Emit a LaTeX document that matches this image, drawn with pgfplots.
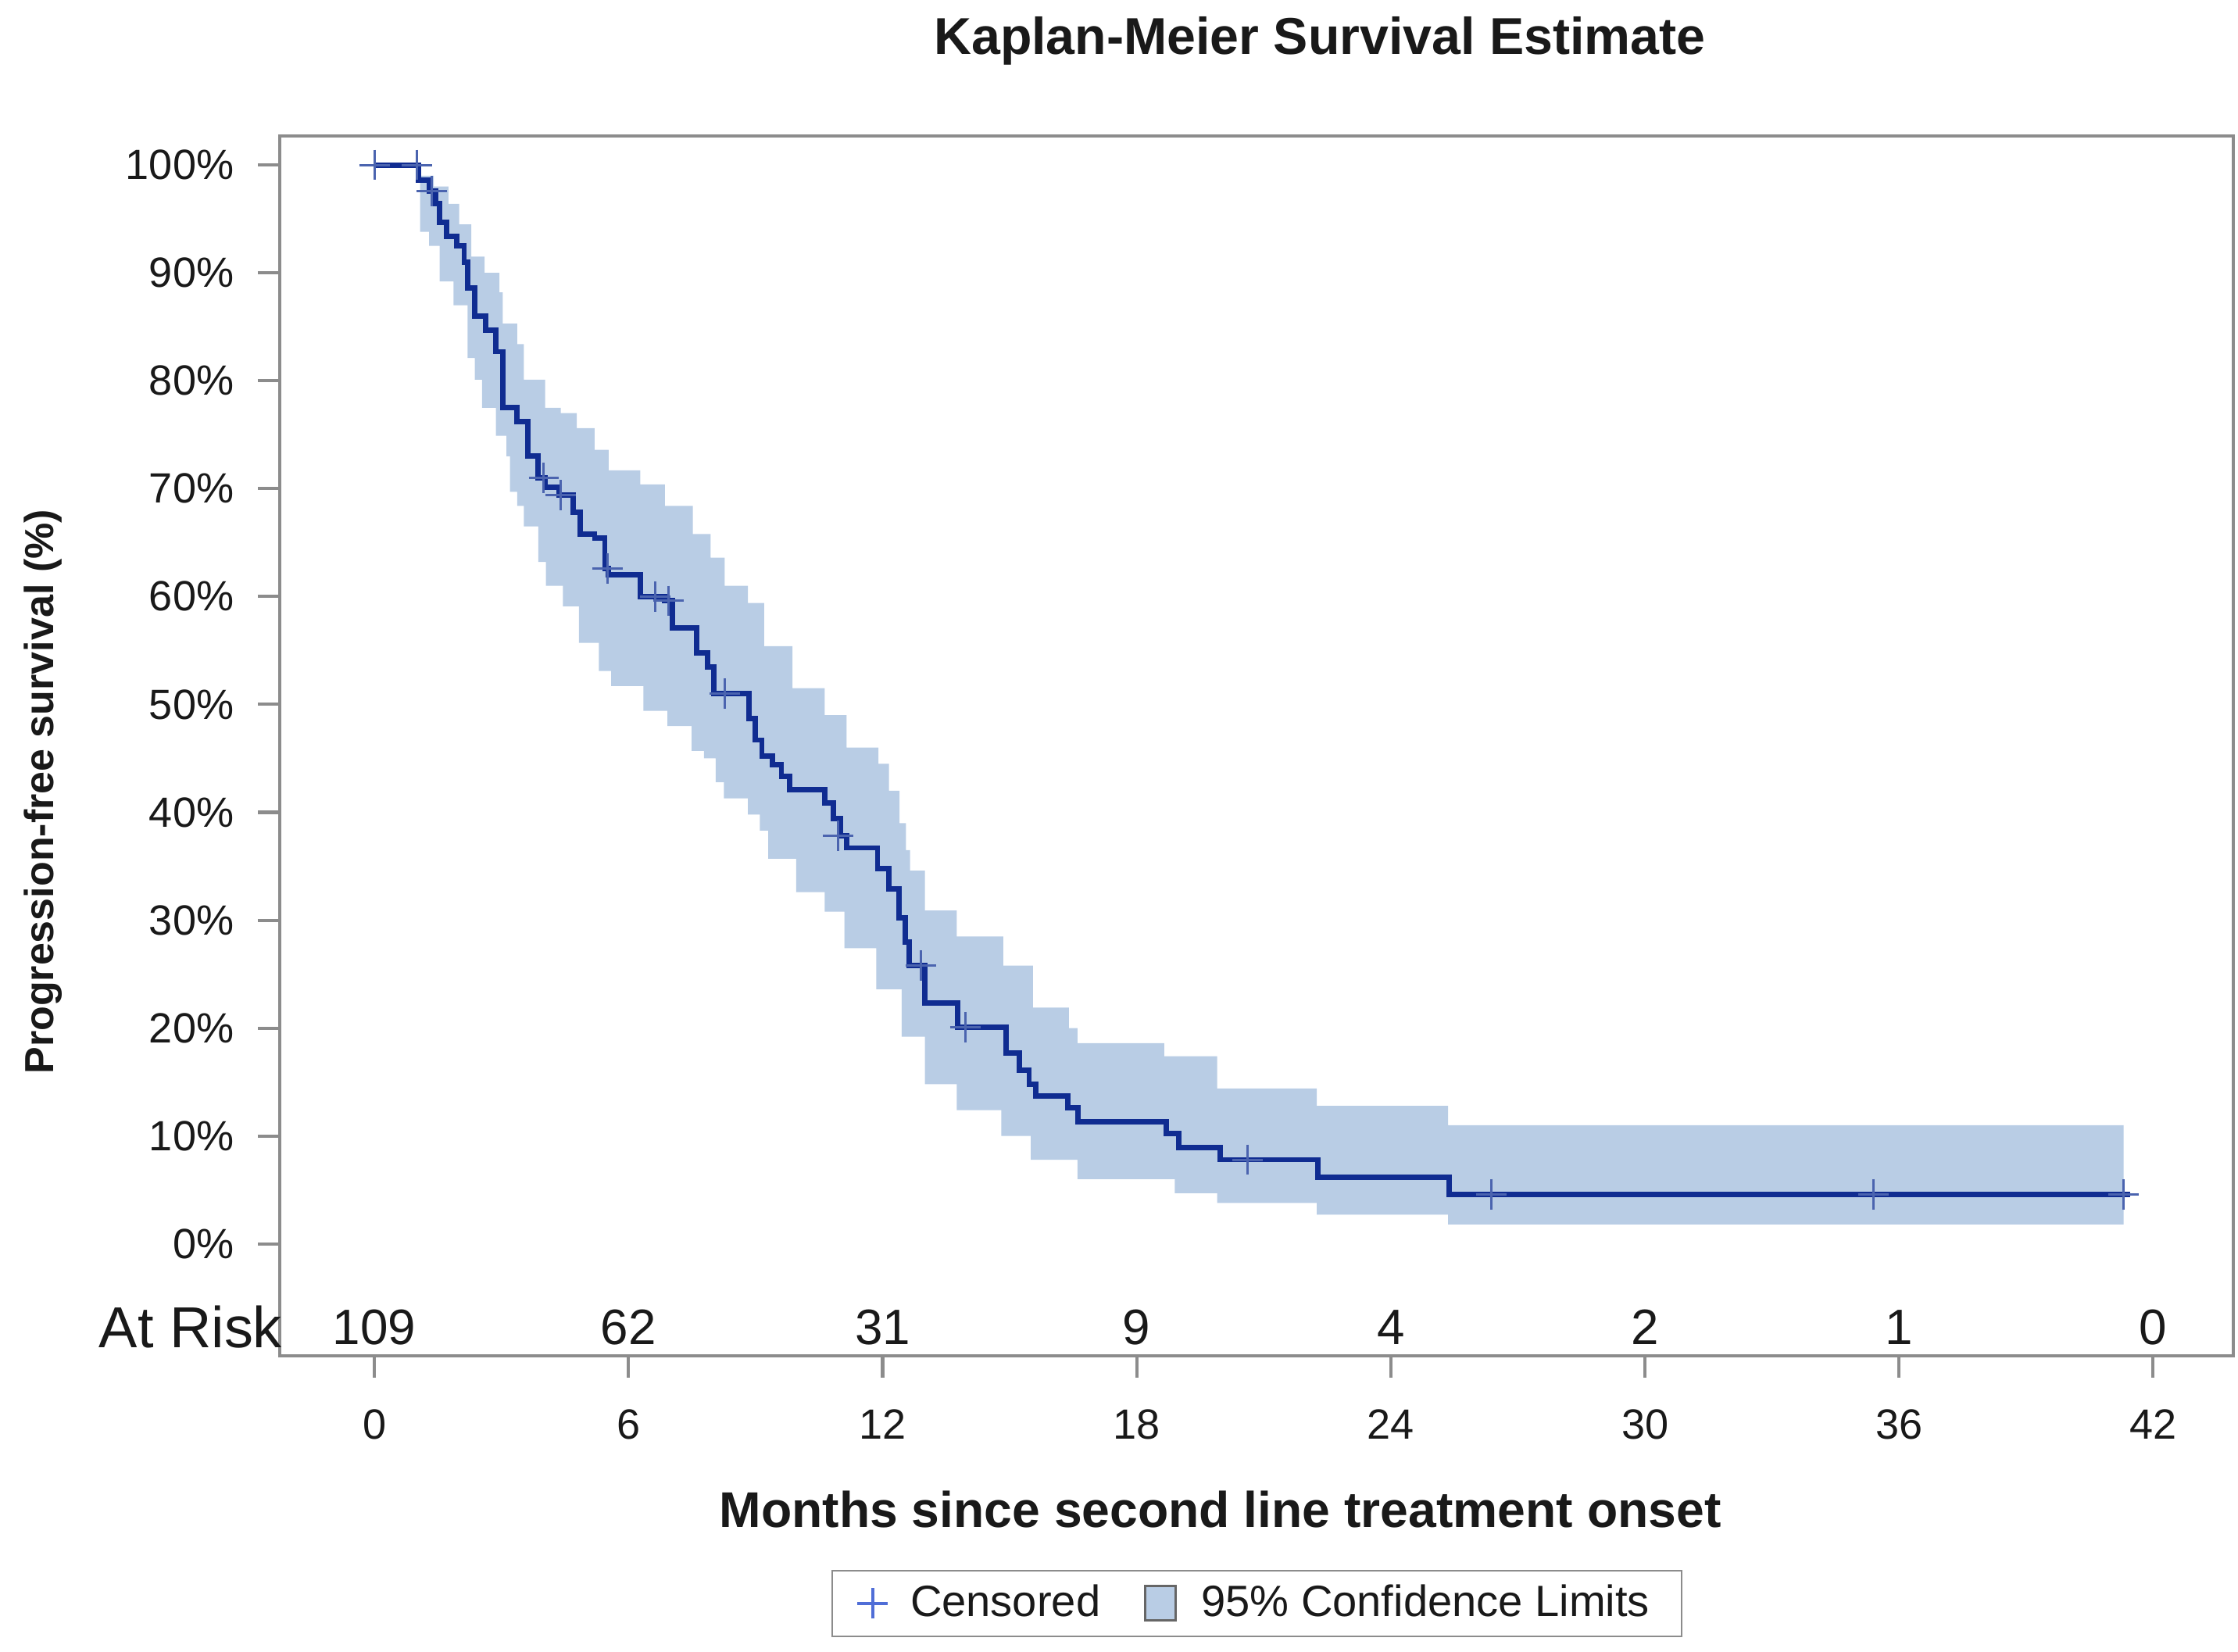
\documentclass[border=0pt]{standalone}
\usepackage{pgfplots}
\pgfplotsset{compat=1.18}
\usepgfplotslibrary{fillbetween}
\usepackage{fontspec}
\setmainfont{Liberation Sans}
\definecolor{kmline}{RGB}{16,44,145}
\definecolor{band}{RGB}{185,205,229}
\definecolor{censor}{RGB}{75,100,175}
\definecolor{legcensor}{RGB}{80,110,215}
\definecolor{frame}{RGB}{140,140,140}
\definecolor{txt}{RGB}{25,25,25}

\pgfplotstableread{
t S
0 100
1.04 98.6
1.29 97.6
1.45 96.4
1.54 94.7
1.70 93.4
1.95 92.5
2.12 91.0
2.20 88.6
2.37 86.0
2.62 84.7
2.87 82.7
3.03 77.5
3.37 76.2
3.62 73.0
3.87 71.0
4.03 70.1
4.36 69.4
4.70 67.8
4.86 65.8
5.20 65.4
5.44 62.6
5.53 62.0
6.28 60.0
6.86 59.6
7.03 57.1
7.61 54.8
7.86 53.5
8.02 51.0
8.84 48.7
8.99 46.7
9.15 45.2
9.40 44.4
9.61 43.3
9.81 42.1
10.64 40.9
10.84 39.4
11.00 37.8
11.15 36.7
11.88 34.8
12.15 32.9
12.38 30.2
12.54 28.0
12.62 25.8
13.00 22.3
13.77 20.1
14.92 17.7
15.23 16.1
15.46 14.8
15.62 13.7
16.38 12.6
16.62 11.3
18.69 10.2
19.00 8.9
19.97 7.8
22.28 6.2
25.38 4.6
41.45 4.6
}\kmcurve

\pgfplotstableread{
t S
0 100
1.0 100
1.35 97.6
4.00 71.0
4.40 69.4
5.50 62.6
6.63 60.0
6.95 59.6
8.27 51.0
10.95 37.8
12.90 25.8
13.95 20.1
20.62 7.8
26.38 4.6
35.40 4.6
41.30 4.6
}\censored

\pgfplotstableread{
t U
1.08 99.0
1.40 98.0
1.75 96.4
2.00 94.5
2.29 91.5
2.60 90.0
2.95 88.2
3.03 85.3
3.37 83.4
3.53 80.1
4.03 77.5
4.40 77.0
4.78 75.6
5.20 73.6
5.53 71.7
6.28 70.4
6.86 68.4
7.52 65.8
7.94 63.6
8.27 61.0
8.82 59.4
9.20 55.4
9.87 51.5
10.63 49.0
11.15 46.0
11.90 44.5
12.15 42.0
12.40 39.0
12.55 36.5
12.65 34.6
13.00 30.9
13.75 28.5
14.85 25.8
15.55 21.9
16.40 20.0
16.60 18.6
18.65 17.4
19.90 14.4
22.25 12.8
25.35 11.0
41.30 11.0
}\bandupper

\pgfplotstableread{
t L
1.08 93.8
1.29 92.5
1.54 89.2
1.87 87.0
2.20 82.1
2.37 80.1
2.54 77.5
2.87 74.9
3.12 73.0
3.20 69.7
3.37 68.4
3.53 66.5
3.87 63.2
4.05 61.0
4.45 59.1
4.83 55.7
5.30 53.1
5.59 51.7
6.35 49.4
6.92 48.0
7.49 45.7
7.78 45.0
8.06 42.8
8.25 41.3
8.82 39.8
9.10 38.3
9.30 35.7
9.96 32.6
10.63 30.8
11.10 27.4
11.85 23.6
12.45 19.2
13.00 14.8
13.75 12.4
14.80 10.0
15.50 7.8
16.60 6.0
18.90 4.7
19.90 3.8
22.25 2.7
25.35 1.8
41.30 1.8
}\bandlower

\begin{document}
\begin{tikzpicture}
\begin{axis}[
  at={(0,0)}, anchor=south west,
  scale only axis, width=490.3pt, height=306pt,
  xmin=-2.235, xmax=43.9, ymin=-10.37, ymax=102.66,
  clip mode=individual,
  axis line style={frame, line width=0.8pt},
  xtick={0,6,12,18,24,30,36,42},
  ytick={0,10,20,30,40,50,60,70,80,90,100},
  yticklabels={0\%,10\%,20\%,30\%,40\%,50\%,60\%,70\%,80\%,90\%,100\%},
  tick align=outside, xtick pos=bottom, ytick pos=left,
  major tick length=5.5pt,
  tick style={frame, line width=0.8pt},
  /pgf/number format/assume math mode=true,
  ticklabel style={font=\fontsize{10.6}{12}\selectfont, text=txt},
  xticklabel style={yshift=-4.5pt},
  yticklabel style={xshift=-2.5pt},
  legend style={at={(0.5,-0.203)}, anchor=center, draw=frame,
    font=\fontsize{11}{13}\selectfont, text=txt,
    inner xsep=6pt, inner ysep=1.5pt,
    /tikz/every even column/.append style={column sep=9pt}},
  legend columns=2,
  legend cell align=left,
]
\addplot[name path=U, const plot, draw=none, forget plot] table[x=t,y=U] {\bandupper};
\addplot[name path=L, const plot, draw=none, forget plot] table[x=t,y=L] {\bandlower};
\addplot[fill=band, draw=none, forget plot] fill between[of=U and L];
\addplot[const plot, kmline, line width=1.35pt, forget plot] table[x=t,y=S] {\kmcurve};
\addplot[only marks, mark=+, mark size=3.8pt, censor, line width=0.6pt, forget plot] table[x=t,y=S] {\censored};

\addlegendimage{legend image code/.code={
  \draw[legcensor, line width=0.8pt] (3pt,-3.8pt) -- (3pt,3.8pt) (-0.8pt,0pt) -- (6.8pt,0pt);
  \path[draw=none, fill=none] (0pt,0pt) (10.5pt,0pt);}}
\addlegendentry{Censored}
\addlegendimage{legend image code/.code={
  \draw[fill=band, draw=black!60, line width=0.6pt] (0pt,-4.3pt) rectangle (7.6pt,4.3pt);
  \path[draw=none, fill=none] (0pt,0pt) (12pt,0pt);}}
\addlegendentry{95\% Confidence Limits}

\node[anchor=east, inner sep=0pt, font=\fontsize{14.5}{16}\selectfont, text=txt] at (axis cs:-2.16,-7.71) {At Risk};
\node[inner sep=0pt, font=\fontsize{12.5}{14}\selectfont, text=txt] at (axis cs:0,-7.71) {109};
\node[inner sep=0pt, font=\fontsize{12.5}{14}\selectfont, text=txt] at (axis cs:6,-7.71) {62};
\node[inner sep=0pt, font=\fontsize{12.5}{14}\selectfont, text=txt] at (axis cs:12,-7.71) {31};
\node[inner sep=0pt, font=\fontsize{12.5}{14}\selectfont, text=txt] at (axis cs:18,-7.71) {9};
\node[inner sep=0pt, font=\fontsize{12.5}{14}\selectfont, text=txt] at (axis cs:24,-7.71) {4};
\node[inner sep=0pt, font=\fontsize{12.5}{14}\selectfont, text=txt] at (axis cs:30,-7.71) {2};
\node[inner sep=0pt, font=\fontsize{12.5}{14}\selectfont, text=txt] at (axis cs:36,-7.71) {1};
\node[inner sep=0pt, font=\fontsize{12.5}{14}\selectfont, text=txt] at (axis cs:42,-7.71) {0};
\end{axis}
\node[font=\bfseries\fontsize{13}{15}\selectfont, text=txt] at (261pt,330pt) {Kaplan-Meier Survival Estimate};
\node[font=\bfseries\fontsize{12.6}{15}\selectfont, text=txt] at (236pt,-38.5pt) {Months since second line treatment onset};
\node[font=\bfseries\fontsize{10.2}{12}\selectfont, text=txt, rotate=90] at (-59.4pt,141.5pt) {Progression-free survival (\%)};
\path (-70.2pt,-74.2pt) rectangle (491.4pt,340.2pt);
\end{tikzpicture}
\end{document}
